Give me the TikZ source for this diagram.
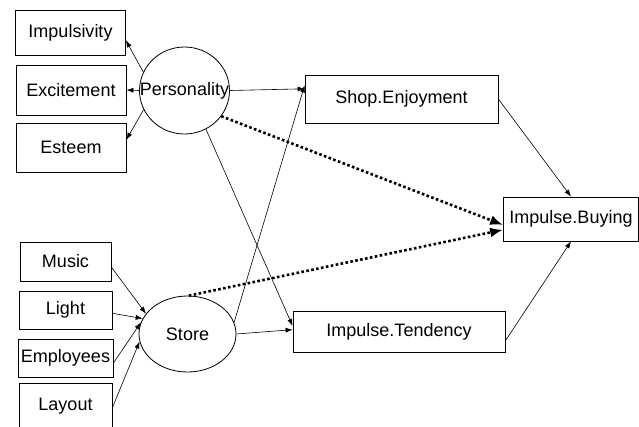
\documentclass[tikz,border=0pt]{standalone}
\usepackage{fontspec}
\setmainfont{Liberation Sans}
\usetikzlibrary{arrows.meta,shapes.geometric}

\begin{document}
\begin{tikzpicture}[x=1pt,y=-1pt,font=\fontsize{18}{20}\selectfont,
    obs node/.style={rectangle,draw,line width=0.8pt,inner sep=0pt},
    lat node/.style={ellipse,draw,line width=0.8pt,inner sep=0pt},
    arr/.style={-{Latex[length=7pt,width=5pt]},line width=0.6pt},
    dotarr/.style={-{Latex[length=13pt,width=10pt]},line width=2.6pt,dash pattern=on 2.6pt off 2.4pt}]
                \useasboundingbox (0,0) rectangle (639,426);

                % measured variables
                \node[obs node,minimum width=110pt,minimum height=45pt] at (70.5,32.5) (imp) {Impulsivity};
                \node[obs node,minimum width=110pt,minimum height=50pt] at (71,90) (exc) {Excitement};
                \node[obs node,minimum width=110pt,minimum height=49pt] at (71,147.5) (est) {Esteem};
                \node[obs node,minimum width=91pt,minimum height=39pt] at (65.5,261.5) (music) {Music};
                \node[obs node,minimum width=93pt,minimum height=38pt] at (65.5,310) (light) {Light};
                \node[obs node,minimum width=95pt,minimum height=38pt] at (65.5,358) (empl) {Employees};
                \node[obs node,minimum width=93pt,minimum height=46pt] at (65.5,406) (layout) {Layout};
                \node[obs node,minimum width=193pt,minimum height=48pt] at (401.5,99) (shop) {Shop.Enjoyment};
                \node[obs node,minimum width=212pt,minimum height=41pt] at (399,331.5) (tend) {Impulse.Tendency};
                \node[obs node,minimum width=135pt,minimum height=44pt] at (571,219) (buy) {Impulse.Buying};

                % latent variables
                \node[lat node,minimum width=90pt,minimum height=87pt,label=center:Personality] at (184.5,90.5) (pers) {};
                \node[lat node,minimum width=97pt,minimum height=76pt,label=center:Store] at (187.5,334) (store) {};

                \path[arr]
                    (pers.156) edge (imp.-8)
                    (pers.west) edge (exc.east)
                    (pers.205) edge (est.8)
                    (pers.east) edge (shop.174)
                    (pers.-61) edge (tend.177)
                    (store.14) edge (shop.172)
                    (store.east) edge (tend.179)
                    (music.-7) edge (store.154)
                    (light.-4) edge (store.161)
                    (empl.-6) edge (store.166)
                    (layout.-2) edge (store.189)
                    (shop.east) edge (buy.north)
                    (tend.-5) edge (buy.south)
                    ;
                \path[dotarr]
                    (pers.-35) edge (buy.185)
                    (store.88) edge (buy.189)
                    ;
            \end{tikzpicture}
\end{document}
